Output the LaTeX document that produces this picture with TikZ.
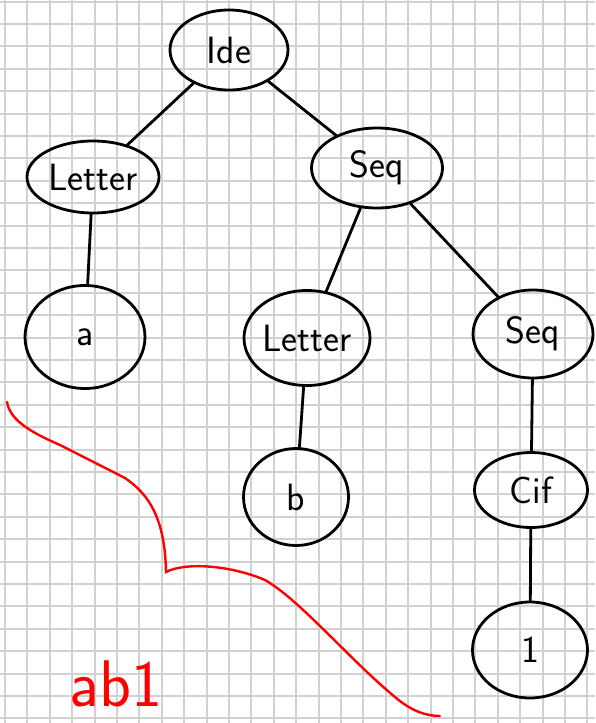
\documentclass[tikz,border=0pt]{standalone}
\usepackage{tikz}
\usetikzlibrary{shapes.geometric}

\begin{document}
\begin{tikzpicture}[x=1pt,y=-1pt,
  tnode/.style={draw,ellipse,line width=2.8pt,inner sep=0pt,font=\sffamily\fontsize{38}{40}\selectfont},
  tedge/.style={line width=2.8pt,line cap=round}]
\useasboundingbox (0,0) rectangle (595,723);
\fill[white] (0,0) rectangle (595,723);
% squared paper
\foreach \i in {0,...,26} \draw[black!18,line width=2pt] (5+22.4*\i,0)--(5+22.4*\i,723);
\foreach \j in {0,...,32} \draw[black!18,line width=2pt] (0,1.6+22.4*\j)--(595,1.6+22.4*\j);
% tree
\node[tnode,minimum width=118,minimum height=80] (ide) at (229,50){Ide};
\node[tnode,minimum width=132,minimum height=72] (letA) at (93,177){Letter};
\node[tnode,minimum width=131,minimum height=80] (seqA) at (377,168){Seq};
\node[tnode,minimum width=120,minimum height=103] (a) at (85,337){a};
\node[tnode,minimum width=122,minimum height=95] (letB) at (307,338){Letter};
\node[tnode,minimum width=120,minimum height=88] (seqB) at (533,334){Seq};
\node[tnode,minimum width=105,minimum height=97] (b) at (296,497){b};
\node[tnode,minimum width=113,minimum height=75] (cif) at (531,490){Cif};
\node[tnode,minimum width=115,minimum height=96] (one) at (530,650){1};
\draw[tedge] (ide)--(letA);
\draw[tedge] (ide)--(seqA);
\draw[tedge] (letA)--(a);
\draw[tedge] (seqA)--(letB);
\draw[tedge] (seqA)--(seqB);
\draw[tedge] (letB)--(b);
\draw[tedge] (seqB)--(cif);
\draw[tedge] (cif)--(one);
% red brace and result
\draw[red,line width=2.4pt,line cap=round] (7,402) .. controls (10,420) and (30,432) .. (60,445)
  -- (125,478) .. controls (150,495) and (165,520) .. (166,572)
  .. controls (185,562) and (230,565) .. (265,580)
  .. controls (300,600) and (350,660) .. (395,697)
  .. controls (410,710) and (425,716) .. (440,716);
\node[red,inner sep=0pt,font=\sffamily\fontsize{66}{70}\selectfont] (res) at (116,684){ab1};
\end{tikzpicture}
\end{document}
